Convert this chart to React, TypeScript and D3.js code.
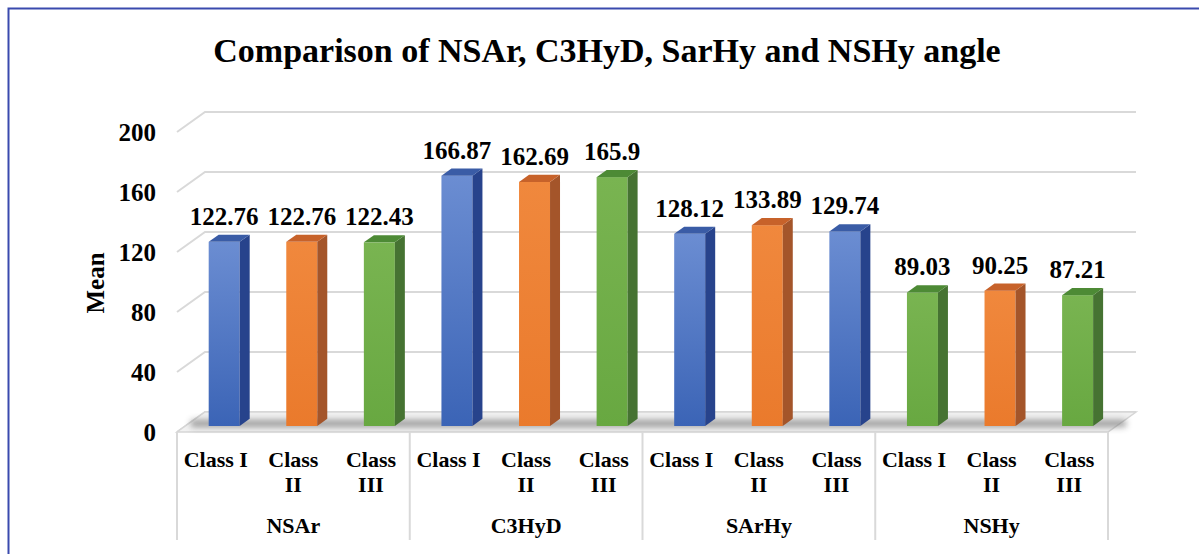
import React from "react";
import * as d3 from "d3";

const width = 1199;
const height = 554;
const font = "'Liberation Serif', 'Times New Roman', serif";

// chart data
const title = "Comparison of NSAr, C3HyD, SarHy and NSHy angle";
const groups = ["NSAr", "C3HyD", "SArHy", "NSHy"];
const classes = ["Class I", "Class II", "Class III"];
const nsarValues = [122.76, 122.76, 122.43];
const c3hydValues = [166.87, 162.69, 165.9];
const sarhyValues = [128.12, 133.89, 129.74];
const nshyValues = [89.03, 90.25, 87.21];
const barColorKeys = [
  ["blue", "orange", "green"],
  ["blue", "orange", "green"],
  ["blue", "orange", "blue"],
  ["green", "orange", "green"],
];
const yTicks = [0, 40, 80, 120, 160, 200];

const palette: Record<string, { light: string; dark: string; side: string; top: string }> = {
  blue: { light: "#6b8dd2", dark: "#3b64b6", side: "#27438c", top: "#3a5ca6" },
  orange: { light: "#f0883d", dark: "#ea7a2c", side: "#a4552a", top: "#c7622a" },
  green: { light: "#79b451", dark: "#68a841", side: "#467332", top: "#4d8a35" },
};

// 3d geometry
const front = { left: 177, right: 1108, bottom: 432, top: 132 };
const depth = { dx: 28, dy: -20 };
const barDepth = 0.3; // front face position inside the box
const barW = 31;
const sideW = 10;
const sideH = sideW * (depth.dy / depth.dx);

const allValues = [nsarValues, c3hydValues, sarhyValues, nshyValues];
const bars = groups.flatMap((g, gi) =>
  classes.map((c, ci) => ({
    key: `${g}-${c}`,
    group: g,
    cls: c,
    value: allValues[gi][ci],
    color: barColorKeys[gi][ci],
  }))
);

export default function App() {
  const x = d3
    .scaleBand<string>()
    .domain(bars.map((d) => d.key))
    .range([front.left, front.right])
    .padding(0);
  const xGroup = d3
    .scaleBand<string>()
    .domain(groups)
    .range([front.left, front.right])
    .padding(0);
  const y = d3.scaleLinear().domain([0, 200]).range([front.bottom, front.top]);

  const offX = depth.dx * barDepth;
  const offY = depth.dy * barDepth;
  const backRight = front.right + depth.dx;

  return (
    <svg
      width={width}
      height={height}
      style={{ position: "absolute", left: 0, top: 0, background: "#fff" }}
      fontFamily={font}
    >
      <defs>
        {Object.entries(palette).map(([k, p]) => (
          <linearGradient key={k} id={`grad-${k}`} x1="0" y1="0" x2="0" y2="1">
            <stop offset="0%" stopColor={p.light} />
            <stop offset="100%" stopColor={p.dark} />
          </linearGradient>
        ))}
        <filter id="blur" x="-20%" y="-200%" width="140%" height="500%">
          <feGaussianBlur stdDeviation="3" />
        </filter>
      </defs>

      {/* frame */}
      <path d={`M8.5,${height} V8.5 H${width}`} fill="none" stroke="#3a4aae" strokeWidth={2} />

      <text x={607} y={62} textAnchor="middle" fontSize={34} fontWeight="bold">
        {title}
      </text>

      {/* gridlines: left wall + back wall */}
      {yTicks.map((t) => (
        <path
          key={t}
          d={`M${front.left},${y(t)} L${front.left + depth.dx},${y(t) + depth.dy} H${backRight}`}
          fill="none"
          stroke="#d9d9d9"
          strokeWidth={2}
        />
      ))}

      {/* floor */}
      <path
        d={`M${front.left},${front.bottom} H${front.right} L${backRight},${front.bottom + depth.dy} H${front.left + depth.dx} Z`}
        fill="#f1f1f1"
        stroke="#d6d6d6"
        strokeWidth={1.5}
      />
      <rect
        x={front.left + 14}
        y={front.bottom + offY - 6}
        width={front.right - front.left + 4}
        height={7}
        fill="#626262"
        opacity={0.6}
        filter="url(#blur)"
      />

      {/* y axis */}
      {yTicks.map((t) => (
        <text
          key={t}
          x={156}
          y={y(t)}
          dy="0.35em"
          textAnchor="end"
          fontSize={25}
          fontWeight="bold"
        >
          {t}
        </text>
      ))}
      <text
        transform="translate(104,283) rotate(-90)"
        textAnchor="middle"
        fontSize={25}
        fontWeight="bold"
      >
        Mean
      </text>

      {/* bars */}
      {bars.map((d) => {
        const p = palette[d.color];
        const cx = x(d.key)! + x.bandwidth() / 2 + offX;
        const x0 = cx - barW / 2;
        const x1 = cx + barW / 2;
        const yb = y(0) + offY;
        const yt = y(d.value) + offY;
        return (
          <g key={d.key}>
            <rect x={x0} y={yt} width={barW} height={yb - yt} fill={`url(#grad-${d.color})`} />
            <path
              d={`M${x1},${yt} L${x1 + sideW},${yt + sideH} V${yb + sideH} L${x1},${yb} Z`}
              fill={p.side}
            />
            <path
              d={`M${x0},${yt} L${x0 + sideW},${yt + sideH} H${x1 + sideW} L${x1},${yt} Z`}
              fill={p.top}
            />
            <text x={cx} y={yt - 17} textAnchor="middle" fontSize={25} fontWeight="bold">
              {d.value}
            </text>
          </g>
        );
      })}

      {/* category table */}
      {xGroup.domain().map((g) => (
        <line
          key={g}
          x1={xGroup(g)}
          x2={xGroup(g)}
          y1={front.bottom}
          y2={540}
          stroke="#d9d9d9"
          strokeWidth={2}
        />
      ))}
      <line
        x1={front.right}
        x2={front.right}
        y1={front.bottom}
        y2={540}
        stroke="#d9d9d9"
        strokeWidth={2}
      />
      {bars.map((d) => {
        const cx = x(d.key)! + x.bandwidth() / 2;
        const lines = d.cls === "Class I" ? [d.cls] : d.cls.split(" ");
        return (
          <text key={d.key} textAnchor="middle" fontSize={22} fontWeight="bold">
            {lines.map((l, i) => (
              <tspan key={i} x={cx} y={467 + i * 25}>
                {l}
              </tspan>
            ))}
          </text>
        );
      })}
      {groups.map((g) => (
        <text
          key={g}
          x={xGroup(g)! + xGroup.bandwidth() / 2}
          y={533}
          textAnchor="middle"
          fontSize={22}
          fontWeight="bold"
        >
          {g}
        </text>
      ))}
    </svg>
  );
}
